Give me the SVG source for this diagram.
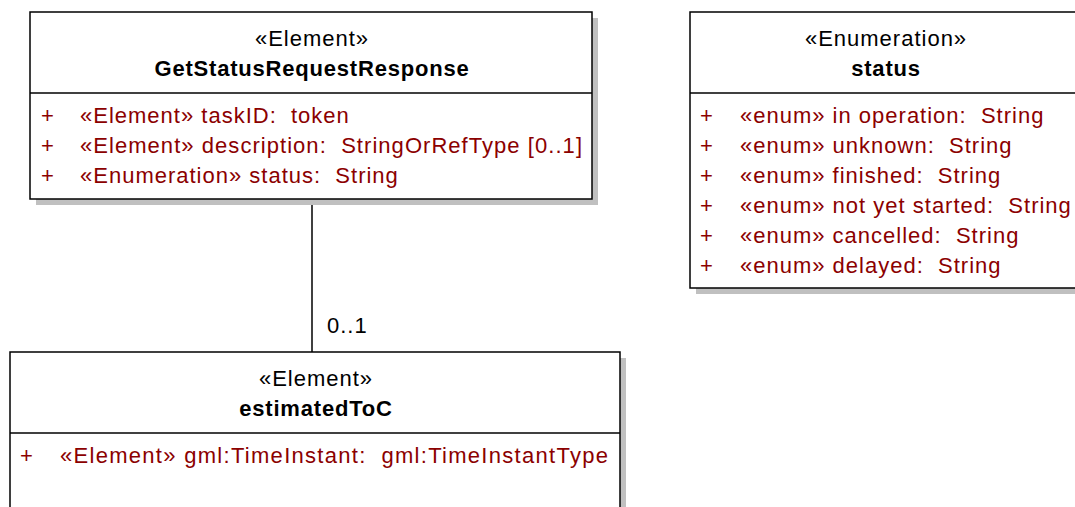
<svg xmlns="http://www.w3.org/2000/svg" width="1075" height="507" viewBox="0 0 1075 507">
<style>
text{font-family:"Liberation Sans",Arial,sans-serif;font-size:22px;letter-spacing:1px}
.shadow{fill:#c0c0c0}
.box{fill:#fff;stroke:#000;stroke-width:1.5}
.div{stroke:#000;stroke-width:1.5}
.st{fill:#000;text-anchor:middle}
.nm{fill:#000;text-anchor:middle;font-weight:bold;letter-spacing:0.8px}
.at{fill:#8b0000}
.conn{stroke:#000;stroke-width:1.5;fill:none}
.lbl{fill:#000}
</style>
<rect width="1075" height="507" fill="#fff"/>
<g id="connectors">
<line class="conn" x1="312" y1="199" x2="312" y2="352"/>
<text class="lbl" x="327" y="333">0..1</text>
</g>
<g id="GetStatusRequestResponse">
<rect class="shadow" x="36" y="18" width="562" height="187"/>
<rect class="box" x="30" y="12" width="562" height="187"/>
<line class="div" x1="30" y1="93" x2="592" y2="93"/>
<text class="st" x="312" y="46">«Element»</text>
<text class="nm" x="312" y="76">GetStatusRequestResponse</text>
<text class="at" x="41" y="123">+</text>
<text class="at" x="80" y="123">«Element» taskID:&#160; token</text>
<text class="at" x="41" y="153">+</text>
<text class="at" x="80" y="153" textLength="503" lengthAdjust="spacing">«Element» description:&#160; StringOrRefType [0..1]</text>
<text class="at" x="41" y="183">+</text>
<text class="at" x="80" y="183">«Enumeration» status:&#160; String</text>
</g>
<g id="status">
<rect class="shadow" x="696" y="18" width="390" height="276"/>
<rect class="box" x="690" y="12" width="390" height="276"/>
<line class="div" x1="690" y1="93" x2="1080" y2="93"/>
<text class="st" x="886" y="46">«Enumeration»</text>
<text class="nm" x="886" y="76">status</text>
<text class="at" x="700" y="123">+</text>
<text class="at" x="740" y="123">«enum» in operation:&#160; String</text>
<text class="at" x="700" y="153">+</text>
<text class="at" x="740" y="153">«enum» unknown:&#160; String</text>
<text class="at" x="700" y="183">+</text>
<text class="at" x="740" y="183">«enum» finished:&#160; String</text>
<text class="at" x="700" y="213">+</text>
<text class="at" x="740" y="213">«enum» not yet started:&#160; String</text>
<text class="at" x="700" y="243">+</text>
<text class="at" x="740" y="243">«enum» cancelled:&#160; String</text>
<text class="at" x="700" y="273">+</text>
<text class="at" x="740" y="273">«enum» delayed:&#160; String</text>
</g>
<g id="estimatedToC">
<rect class="shadow" x="16" y="358" width="610" height="170"/>
<rect class="box" x="10" y="352" width="610" height="170"/>
<line class="div" x1="10" y1="433" x2="620" y2="433"/>
<text class="st" x="316" y="386">«Element»</text>
<text class="nm" x="316" y="416">estimatedToC</text>
<text class="at" x="20" y="463">+</text>
<text class="at" x="60" y="463" textLength="549" lengthAdjust="spacing">«Element» gml:TimeInstant:&#160; gml:TimeInstantType</text>
</g>
</svg>
